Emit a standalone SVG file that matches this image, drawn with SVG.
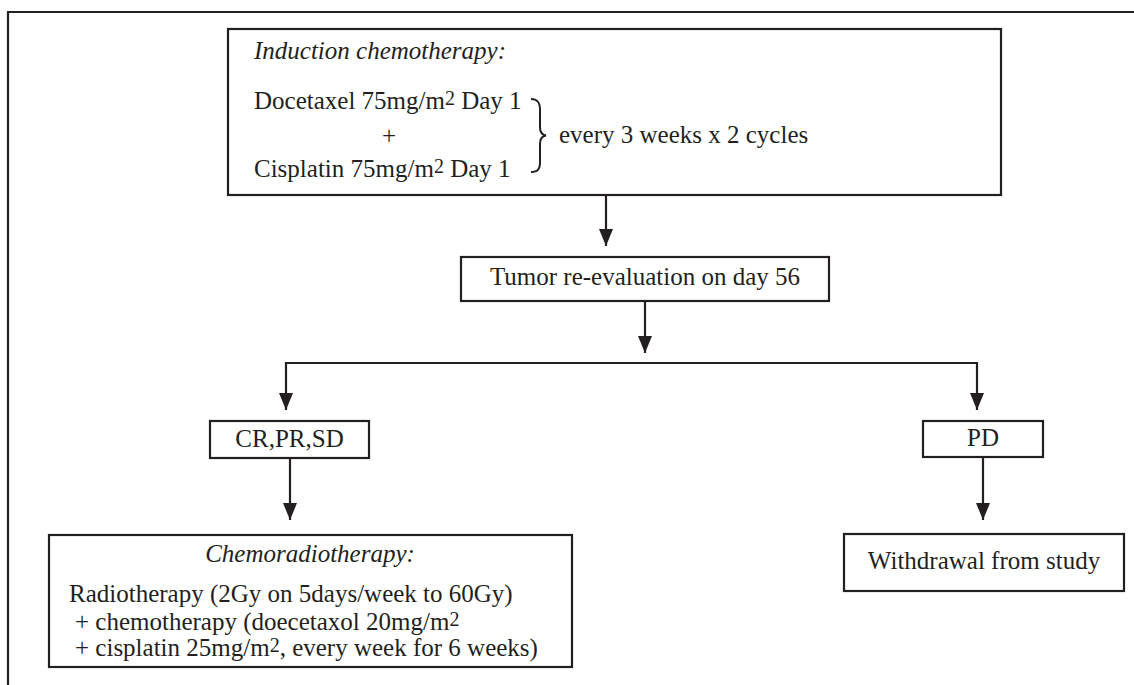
<svg xmlns="http://www.w3.org/2000/svg" width="1134" height="685" viewBox="0 0 1134 685">
<style>
  .box{fill:#fff;stroke:#231f20;stroke-width:2.2}
  .t{font-family:"Liberation Serif","Times New Roman",serif;font-size:25px;fill:#231f20}
  .i{font-style:italic}
  .c{text-anchor:middle}
  .sup{font-size:20px}
  .ln{fill:none;stroke:#231f20;stroke-width:2.2}
</style>
<defs>
  <marker id="ah" viewBox="0 0 17 14" refX="17" refY="7" markerWidth="17" markerHeight="14" markerUnits="userSpaceOnUse" orient="auto">
    <path d="M0,0 L17,7 L0,14 z" fill="#231f20"/>
  </marker>
</defs>
<rect width="1134" height="685" fill="#fff"/>
<path class="ln" d="M8,685 L8,12 L1134,12"/>

<g id="induction">
  <rect class="box" x="228" y="29" width="773" height="166"/>
  <text class="t i" x="254" y="59">Induction chemotherapy:</text>
  <text class="t" x="254" y="109">Docetaxel 75mg/m<tspan class="sup" dy="-4">2</tspan><tspan dy="4"> Day 1</tspan></text>
  <text class="t c" x="389" y="144">+</text>
  <text class="t" x="254" y="177">Cisplatin 75mg/m<tspan class="sup" dy="-4">2</tspan><tspan dy="4"> Day 1</tspan></text>
  <path d="M531,99 C538,99 540,103 540,110 L540,127 C540,132 542,135 546,135.5 C542,136 540,139 540,144 L540,162 C540,169 538,172 531,172" fill="none" stroke="#231f20" stroke-width="2"/>
  <text class="t" x="559" y="143">every 3 weeks x 2 cycles</text>
</g>

<g id="tumor">
  <rect class="box" x="461" y="257" width="368" height="44"/>
  <text class="t c" x="645" y="285">Tumor re-evaluation on day 56</text>
</g>

<g id="crprsd">
  <rect class="box" x="210" y="421" width="159" height="37"/>
  <text class="t c" x="289.5" y="447">CR,PR,SD</text>
</g>

<g id="pd">
  <rect class="box" x="923" y="421" width="120" height="36"/>
  <text class="t c" x="983" y="446">PD</text>
</g>

<g id="chemorad">
  <rect class="box" x="49" y="535" width="523" height="132"/>
  <text class="t i c" x="310" y="562">Chemoradiotherapy:</text>
  <text class="t" x="69" y="602">Radiotherapy (2Gy on 5days/week to 60Gy)</text>
  <text class="t" x="69" y="630"> <tspan x="75">+ chemotherapy (doecetaxol 20mg/m</tspan><tspan class="sup" dy="-4">2</tspan></text>
  <text class="t" x="75" y="656">+ cisplatin 25mg/m<tspan class="sup" dy="-4">2</tspan><tspan dy="4">, every week for 6 weeks)</tspan></text>
</g>

<g id="withdrawal">
  <rect class="box" x="844" y="534" width="280" height="57"/>
  <text class="t c" x="984" y="569">Withdrawal from study</text>
</g>

<g id="connectors">
  <path class="ln" d="M606,195 L606,246" marker-end="url(#ah)"/>
  <path class="ln" d="M645,301 L645,353" marker-end="url(#ah)"/>
  <path class="ln" d="M631,363 L286,363 L286,410" marker-end="url(#ah)"/>
  <path class="ln" d="M631,363 L977,363 L977,410" marker-end="url(#ah)"/>
  <path class="ln" d="M290,458 L290,520" marker-end="url(#ah)"/>
  <path class="ln" d="M983,457 L983,520" marker-end="url(#ah)"/>
</g>
</svg>
